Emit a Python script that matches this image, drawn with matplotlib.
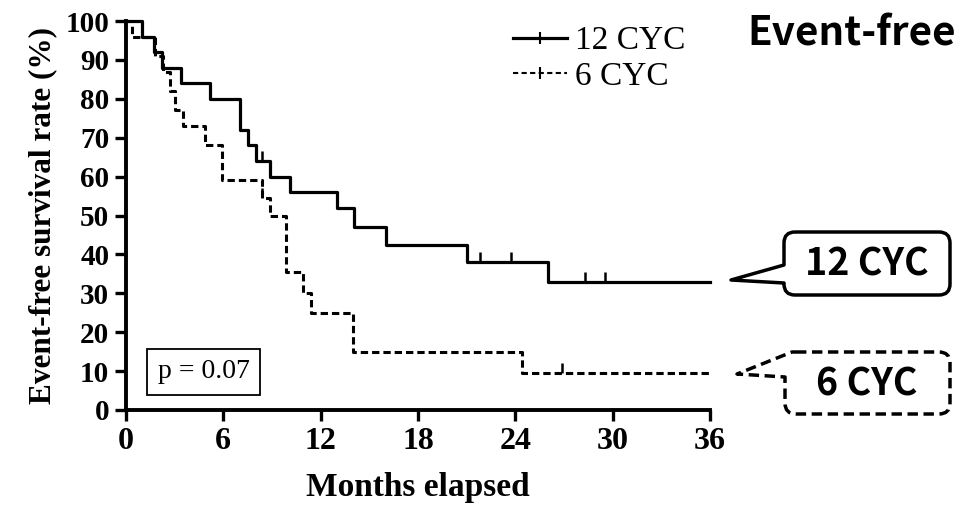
import matplotlib
matplotlib.use("Agg")
import matplotlib.pyplot as plt
from matplotlib.path import Path
from matplotlib.patches import PathPatch
from matplotlib.lines import Line2D
import numpy as np

# Kaplan-Meier steps (months, %)
t12 = [0, 1.0, 1.7, 2.2, 3.4, 5.2, 7.0, 7.5, 8.0, 8.9, 10.1, 13.0, 14.05, 16.0, 21.0, 26.0]
s12 = [100, 96, 92, 88, 84, 80, 72, 68, 64, 60, 56, 52, 47, 42.5, 38, 33]
cens12 = [8.4, 21.8, 23.75, 28.3, 29.5]

t6 = [0, 0.4, 1.8, 2.3, 2.7, 3.0, 3.5, 4.9, 5.9, 8.4, 8.9, 9.85, 10.9, 11.4, 14.0, 24.4]
s6 = [100, 96, 91, 87, 82, 77, 73, 68, 59, 54.5, 50, 35.5, 30, 25, 15, 9.5]
cens6 = [8.4, 26.9]

xticks = [0, 6, 12, 18, 24, 30, 36]
yticks = list(range(0, 101, 10))

SERIF = "Liberation Serif"
SANS = ["Noto Sans CJK JP", "DejaVu Sans"]

W, H = 974, 505
fig = plt.figure(figsize=(W / 100, H / 100), dpi=100)
ax = fig.add_axes([126 / W, (H - 410) / H, 584 / W, 389 / H])


def km_value(t, s, x):
    idx = np.searchsorted(t, x, side="right") - 1
    return s[idx]


# curves
ax.step(t12 + [36], s12 + [s12[-1]], where="post", color="black", lw=2.3, clip_on=False)
ax.step(t6 + [36], s6 + [s6[-1]], where="post", color="black", lw=2.2,
        linestyle=(0, (2.4, 1.3)), clip_on=False)

# censor marks (tick up)
ax.plot(cens12, [km_value(t12, s12, c) for c in cens12], linestyle="none",
        marker=2, markersize=7, mew=1.8, color="black")
ax.plot(cens6, [km_value(t6, s6, c) for c in cens6], linestyle="none",
        marker=2, markersize=7, mew=1.8, color="black")

ax.set_xlim(0, 36)
ax.set_ylim(0, 100)
ax.set_xticks(xticks)
ax.set_yticks(yticks)
ax.tick_params(direction="out", length=8, width=2.4, pad=4)
for lab in ax.get_yticklabels():
    lab.set_fontfamily(SERIF)
    lab.set_fontweight("bold")
    lab.set_fontsize(21)
for lab in ax.get_xticklabels():
    lab.set_fontfamily(SERIF)
    lab.set_fontweight("bold")
    lab.set_fontsize(23)

for side in ["top", "right"]:
    ax.spines[side].set_visible(False)
for side in ["left", "bottom"]:
    ax.spines[side].set_linewidth(2.8)

ax.set_xlabel("Months elapsed", family=SERIF, fontweight="bold", fontsize=24, labelpad=12)
ax.set_ylabel("Event-free survival rate (%)", family=SERIF, fontweight="bold",
              fontsize=22.5, labelpad=6)

# p value box
ax.text(1.95, 9.8, "p = 0.07", family=SERIF, fontsize=20, va="center", ha="left",
        bbox=dict(boxstyle="square,pad=0.38", fc="white", ec="black", lw=1.3))

# legend
handles = [
    Line2D([], [], color="black", lw=2.3, marker="|", markersize=9, mew=1.5),
    Line2D([], [], color="black", lw=1.5, linestyle=(0, (2.5, 1.6)), marker="|",
           markersize=9, mew=1.5),
]
ax.legend(handles, ["12 CYC", "6 CYC"], loc="upper left", bbox_to_anchor=(0.612, 1.065),
          frameon=False, prop={"family": SERIF, "size": 24}, handlelength=1.6,
          handletextpad=0.25, labelspacing=0.15, numpoints=1)

# title on the right
fig.text(852 / W, 1 - 34 / H, "Event-free", family=SANS, fontweight="bold", fontsize=29,
         ha="center", va="center")


def px(x, y):
    return (x / W, 1 - y / H)


def callout(x0, y0, x1, y1, r, pointer, dashed):
    # pointer: pixel points on the left side, lower attach -> tip -> upper attach
    verts = [(x0 + r, y0), (x1 - r, y0), (x1, y0), (x1, y0 + r), (x1, y1 - r),
             (x1, y1), (x1 - r, y1), (x0 + r, y1), (x0, y1), (x0, y1 - r)]
    codes = [Path.MOVETO, Path.LINETO, Path.CURVE3, Path.CURVE3, Path.LINETO,
             Path.CURVE3, Path.CURVE3, Path.LINETO, Path.CURVE3, Path.CURVE3]
    for p in pointer:
        verts.append(p)
        codes.append(Path.LINETO)
    if pointer[-1][1] > y0 + r:
        verts += [(x0, y0 + r), (x0, y0), (x0 + r, y0)]
        codes += [Path.LINETO, Path.CURVE3, Path.CURVE3]
    else:
        verts.append((x0 + r, y0))
        codes.append(Path.LINETO)
    verts = [px(*v) for v in verts]
    patch = PathPatch(Path(verts, codes), transform=fig.transFigure, fc="white", ec="black",
                      lw=2.5, linestyle=(0, (3, 1.6)) if dashed else "-", joinstyle="round")
    fig.add_artist(patch)


callout(784, 232, 950, 295, 11, [(784, 283), (731, 280), (784, 265)], False)
fig.text(867 / W, 1 - 264 / H, "12 CYC", family=SANS, fontweight="bold", fontsize=27,
         ha="center", va="center")

callout(785, 352, 950, 414, 11, [(785, 377), (737, 374), (792, 352)], True)
fig.text(867 / W, 1 - 384 / H, "6 CYC", family=SANS, fontweight="bold", fontsize=27,
         ha="center", va="center")

fig.savefig("out.png", dpi=100)
